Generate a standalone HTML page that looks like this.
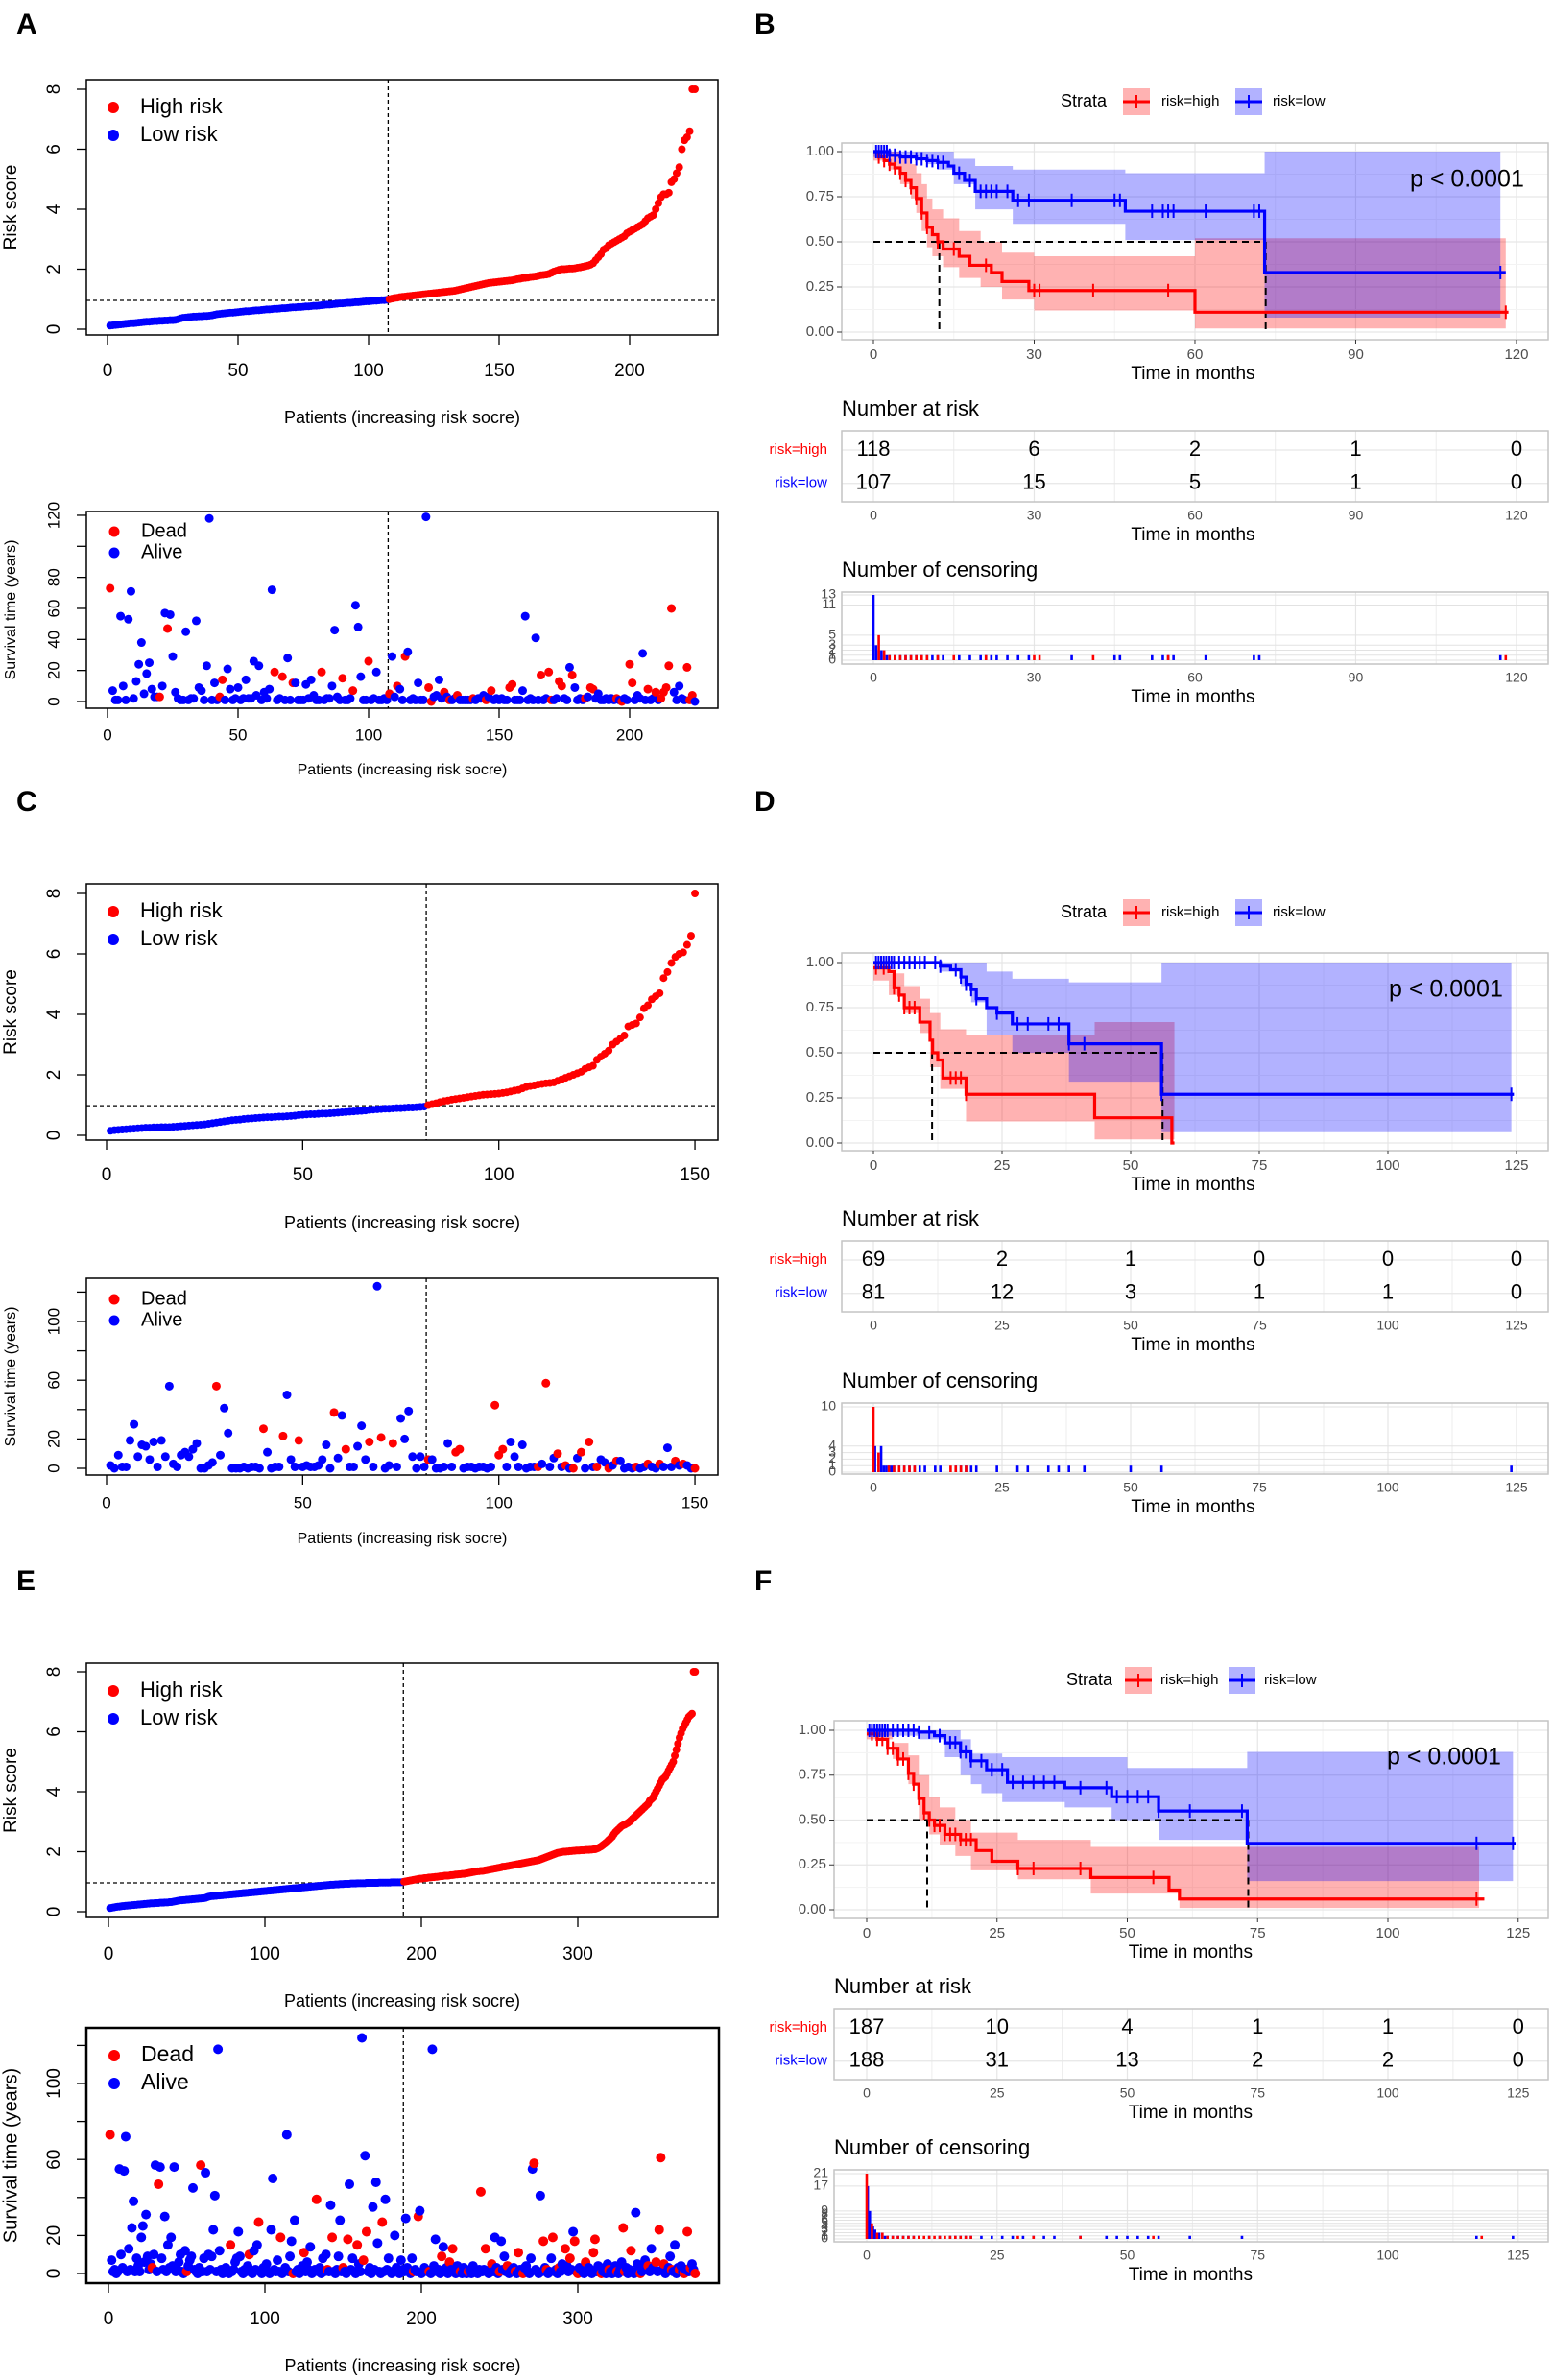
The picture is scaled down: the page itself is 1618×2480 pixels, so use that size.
<!DOCTYPE html>
<html><head><meta charset="utf-8"><title>Risk score and survival figure</title>
<style>
html,body{margin:0;padding:0;background:#fff;}
svg{display:block;font-family:"Liberation Sans",Arial,sans-serif;}
</style></head>
<body>
<svg id="fig" xmlns="http://www.w3.org/2000/svg" width="1618" height="2480" viewBox="0 0 1618 2480"></svg>
<script>
// ---------------- DATA ----------------
const riskA_low=[.12,.13,.14,.15,.16,.17,.18,.19,.20,.20,.21,.22,.23,.24,.25,.25,.26,.27,.27,.28,.28,.29,.29,.30,.30,.31,.33,.36,.38,.39,.40,.41,.42,.42,.43,.43,.44,.44,.45,.46,.48,.50,.51,.52,.53,.54,.55,.55,.56,.57,.58,.59,.60,.60,.61,.62,.63,.63,.64,.65,.66,.66,.67,.68,.68,.69,.70,.70,.71,.72,.73,.73,.74,.74,.75,.76,.76,.77,.78,.78,.79,.80,.81,.82,.82,.83,.84,.85,.86,.86,.87,.88,.88,.89,.90,.90,.91,.92,.93,.93,.94,.95,.95,.96,.97,.97,.98];
const riskA_high=[1.00,1.02,1.04,1.05,1.07,1.08,1.09,1.10,1.11,1.12,1.13,1.14,1.15,1.16,1.17,1.18,1.19,1.20,1.21,1.22,1.23,1.24,1.25,1.26,1.27,1.28,1.30,1.32,1.34,1.36,1.38,1.40,1.42,1.44,1.46,1.48,1.50,1.52,1.54,1.55,1.56,1.57,1.58,1.59,1.60,1.61,1.62,1.63,1.65,1.67,1.68,1.70,1.71,1.72,1.74,1.75,1.76,1.78,1.80,1.81,1.82,1.84,1.88,1.92,1.95,1.98,2.00,2.00,2.01,2.02,2.02,2.03,2.05,2.06,2.08,2.10,2.12,2.15,2.20,2.30,2.40,2.50,2.65,2.70,2.80,2.85,2.90,2.95,3.00,3.05,3.10,3.20,3.25,3.30,3.35,3.40,3.45,3.50,3.60,3.70,3.75,3.80,4.00,4.20,4.40,4.50,4.50,4.55,4.90,5.00,5.20,5.40,6.00,6.30,6.40,6.60,8.00,8.00];
const riskC_low=[.15,.17,.18,.19,.20,.21,.22,.23,.24,.25,.25,.26,.26,.27,.27,.27,.28,.29,.30,.31,.32,.33,.34,.35,.36,.38,.40,.42,.44,.46,.48,.50,.51,.52,.54,.55,.56,.57,.58,.59,.60,.60,.61,.62,.62,.63,.64,.65,.67,.68,.69,.70,.70,.71,.72,.72,.73,.74,.75,.76,.77,.78,.79,.80,.81,.82,.84,.85,.86,.87,.88,.88,.89,.90,.90,.91,.92,.92,.93,.94,.95];
const riskC_high=[1.00,1.03,1.06,1.10,1.13,1.15,1.18,1.20,1.22,1.24,1.26,1.28,1.30,1.32,1.34,1.35,1.36,1.37,1.38,1.40,1.42,1.45,1.48,1.50,1.55,1.60,1.63,1.65,1.68,1.70,1.72,1.73,1.75,1.80,1.85,1.90,1.95,2.00,2.05,2.10,2.20,2.25,2.30,2.50,2.60,2.70,2.80,3.00,3.10,3.20,3.30,3.60,3.65,3.70,3.90,4.20,4.30,4.50,4.60,4.70,5.20,5.40,5.70,5.90,6.00,6.05,6.30,6.60,8.00];
const riskE_low=[.12,.13,.14,.15,.16,.17,.17,.18,.19,.19,.20,.20,.21,.21,.22,.22,.23,.23,.24,.24,.25,.25,.26,.26,.27,.27,.28,.28,.28,.29,.29,.29,.30,.30,.30,.31,.31,.31,.32,.32,.33,.34,.35,.36,.37,.38,.38,.39,.39,.40,.40,.41,.41,.42,.42,.43,.43,.44,.44,.45,.45,.46,.48,.50,.51,.52,.52,.53,.53,.54,.54,.55,.55,.56,.56,.57,.57,.58,.58,.59,.59,.60,.60,.61,.61,.62,.62,.63,.63,.64,.64,.65,.65,.66,.66,.67,.67,.68,.68,.69,.69,.70,.70,.71,.71,.72,.72,.73,.73,.74,.74,.75,.75,.76,.76,.77,.77,.78,.78,.79,.79,.80,.80,.81,.81,.82,.82,.83,.83,.84,.84,.85,.85,.86,.86,.87,.87,.88,.88,.89,.89,.90,.90,.90,.91,.91,.91,.92,.92,.92,.93,.93,.93,.93,.94,.94,.94,.94,.95,.95,.95,.95,.95,.95,.96,.96,.96,.96,.96,.96,.96,.96,.97,.97,.97,.97,.97,.97,.97,.97,.98,.98,.98,.98,.98,.98,.98,.99];
const riskE_high=[1.00,1.01,1.02,1.03,1.04,1.05,1.06,1.07,1.08,1.09,1.10,1.10,1.11,1.12,1.12,1.13,1.14,1.14,1.15,1.16,1.16,1.17,1.18,1.18,1.19,1.20,1.20,1.21,1.22,1.22,1.23,1.24,1.24,1.25,1.26,1.27,1.28,1.29,1.30,1.31,1.32,1.33,1.34,1.35,1.36,1.37,1.38,1.39,1.40,1.41,1.42,1.43,1.44,1.45,1.46,1.47,1.48,1.50,1.52,1.54,1.55,1.56,1.57,1.58,1.59,1.60,1.61,1.62,1.63,1.64,1.65,1.66,1.67,1.68,1.69,1.70,1.71,1.72,1.74,1.76,1.78,1.80,1.82,1.84,1.86,1.88,1.90,1.92,1.94,1.96,1.97,1.98,1.99,2.00,2.00,2.01,2.01,2.02,2.02,2.03,2.04,2.05,2.06,2.08,2.10,2.12,2.15,2.18,2.22,2.26,2.30,2.35,2.40,2.45,2.50,2.58,2.65,2.70,2.75,2.80,2.85,2.88,2.90,2.93,2.96,3.00,3.05,3.10,3.15,3.20,3.25,3.30,3.35,3.40,3.45,3.50,3.55,3.60,3.70,3.75,3.80,3.90,4.00,4.10,4.20,4.30,4.40,4.45,4.50,4.60,4.70,4.80,4.90,5.00,5.20,5.40,5.60,5.80,5.95,6.10,6.20,6.30,6.40,6.50,6.55,6.60,8.00,8.00,2.03,2.04,2.04,2.05,2.05,2.06,2.06,2.07,2.07,2.08,1.50,1.51,1.53,1.35,1.36,1.25,1.26,1.15,1.20];

const timeA=[73,7,1,1,55,10,1,53,71,2,13,24,38,5,18,25,8,3,3,3,10,57,47,56,29,6,2,1,1,45,1,2,2,52,9,7,1,23,118,1,12,1,3,14,1,21,8,1,2,9,1,2,14,2,2,26,4,23,1,6,2,8,72,19,1,2,16,1,28,1,12,12,1,1,1,11,2,14,4,1,1,19,1,2,2,10,46,3,1,15,1,1,2,7,62,48,16,1,1,26,1,2,19,1,1,2,1,5,29,3,10,8,1,29,32,1,2,1,12,1,1,119,9,0,3,4,14,2,6,3,1,1,2,4,1,1,1,1,1,2,1,2,2,4,1,3,7,1,2,1,2,1,1,9,11,1,1,1,7,55,1,2,1,41,1,17,1,2,19,1,1,2,13,10,2,1,22,17,9,1,2,1,2,3,9,8,2,5,1,1,2,1,2,1,2,1,0,2,1,24,12,1,4,2,31,1,8,1,2,6,1,2,6,9,23,60,6,1,10,2,1,22,1,4,0];
const deadA=[1,20,23,43,44,64,67,71,82,90,94,100,108,111,114,123,124,129,131,134,140,145,147,154,155,166,169,170,173,174,178,183,185,186,195,197,200,201,207,210,212,213,214,215,216,222,223,224];
const timeC=[2,0,9,1,1,19,30,8,16,15,6,18,1,19,8,56,3,1,9,11,8,13,17,0,0,2,4,56,9,41,24,0,0,0,1,0,1,1,0,27,11,0,1,1,22,50,6,1,19,1,2,1,1,2,6,16,0,38,7,36,13,1,1,15,29,6,18,1,124,21,0,2,17,1,34,20,39,8,0,8,1,6,6,0,0,1,17,1,11,13,0,1,1,0,1,1,0,1,43,9,13,1,18,8,1,16,0,1,1,1,3,58,1,7,10,1,2,0,0,7,11,0,18,1,1,6,4,0,2,5,5,0,1,0,1,0,1,3,1,0,3,1,14,1,5,2,3,2,0,0];
const deadC=[28,40,45,49,58,61,67,70,73,82,89,90,99,100,101,110,112,115,117,119,121,123,125,128,130,135,138,141,145,147,150];
const timeE=[73,7,1,2,0,1,55,10,3,54,72,1,13,2,24,38,1,8,4,1,19,25,6,31,9,2,5,3,10,57,1,47,56,8,2,30,1,15,3,19,4,56,1,2,6,10,1,0,12,1,4,7,9,45,2,1,0,3,57,1,8,53,1,10,2,9,23,41,1,118,12,2,0,1,3,1,0,15,1,2,6,8,22,9,1,0,2,1,4,10,1,0,12,2,15,27,1,0,3,1,5,1,0,23,50,2,1,7,1,19,0,1,3,73,1,9,17,0,28,1,2,0,1,4,11,1,6,2,14,0,1,2,39,1,3,0,8,1,10,2,1,36,19,1,0,2,9,28,1,3,1,0,18,47,2,8,1,0,15,5,1,124,7,62,22,1,3,0,35,2,48,16,1,0,27,1,39,2,8,1,0,1,20,3,1,0,7,2,1,29,3,1,0,8,1,2,1,30,33,0,1,3,2,1,1,0,118,4,18,1,2,0,9,14,1,3,0,6,2,13,1,0,4,2,1,0,3,1,0,1,2,0,4,1,1,0,2,43,1,2,13,1,0,2,5,1,19,3,0,1,17,2,9,1,4,0,1,2,3,1,0,11,2,1,0,3,4,1,0,8,55,58,2,1,0,41,1,17,3,2,0,1,8,19,1,2,0,3,1,5,2,13,4,1,8,2,22,17,1,0,3,2,1,0,6,1,3,2,0,11,18,1,4,2,0,1,3,0,5,2,1,0,2,4,1,0,2,6,24,1,3,0,2,12,1,0,32,5,2,0,1,3,7,2,4,1,13,3,2,6,1,23,61,2,5,0,1,3,9,2,1,15,0,3,2,4,1,0,2,22,1,3,5,2,0];
const deadE=[1,28,32,50,59,78,90,96,110,118,125,133,140,143,150,153,159,163,165,175,195,198,205,213,218,220,225,230,238,241,245,250,255,260,262,265,272,278,280,284,288,292,295,298,300,305,310,311,315,320,325,329,330,334,340,345,350,352,353,355,360,365,368,370,372,375];

// KM panel B
const kmB_highT=[0,1,2,3,4,5,6,7,8,9,10,11,12,13,16,18,22,24,29,60];
const kmB_highS=[1,.97,.95,.93,.91,.88,.84,.80,.74,.66,.58,.54,.50,.46,.42,.37,.33,.28,.23,.11];
const ciB_highT=[0,3,5,7,8,9,10,11,13,16,20,24,30,60];
const ciB_highU=[1,1,.96,.93,.88,.82,.74,.68,.63,.56,.50,.44,.42,.52];
const ciB_highL=[.95,.90,.82,.74,.66,.56,.47,.42,.36,.30,.25,.18,.12,.02];
const kmB_lowT=[0,3,5,8,10,12,14,15,17,19,26,47,73];
const kmB_lowS=[1,.98,.97,.96,.95,.94,.92,.88,.84,.78,.73,.67,.33];
const ciB_lowT=[0,10,12,15,19,26,47,73];
const ciB_lowU=[1,1,1,.96,.92,.90,.88,1];
const ciB_lowL=[.97,.93,.90,.82,.68,.60,.51,.08];
const censB_high=[1,2,3,4,5,6,7,8,9,10,12,15,21,30,31,41,55,118];
const censB_low=[0.5,1,1.5,2,2.5,3,4,5,6,7,8,9,10,11,12,13,16,18,20,21,22,23,25,27,29,37,45,46,52,54,55,56,62,71,72,117];
const riskB_high=[118,6,2,1,0];
const riskB_low=[107,15,5,1,0];
const cntB_highT=[1,2,3,4,5,6,7,8,9,10,12,15,21,30,31,41,55,118];
const cntB_highN=[5,2,1,1,1,1,1,1,1,1,1,1,1,1,1,1,1,1];
const cntB_lowT=[0,0.5,1,1.5,2,2.5,3,4,5,6,7,8,9,10,11,12,13,16,18,20,21,22,23,25,27,29,37,45,46,52,54,55,56,62,71,72,117];
const cntB_lowN=[13,3,2,2,1,1,1,1,1,1,1,1,1,1,1,1,1,1,1,1,1,1,1,1,1,1,1,1,1,1,1,1,1,1,1,1,1];

// KM panel D
const kmD_highT=[0,3,4,5,6,9,11,11.5,12.5,13.5,18,43,58];
const kmD_highS=[.97,.95,.86,.82,.75,.67,.57,.50,.46,.36,.27,.14,0];
const ciD_highT=[0,3,6,9,11,13,18,43];
const ciD_highU=[1,.94,.87,.80,.72,.63,.60,.67];
const ciD_highL=[.90,.82,.72,.61,.42,.30,.12,.02];
const kmD_lowT=[0,13,15,17,18,19,20,22,24,27,38,56];
const kmD_lowS=[1,.98,.96,.92,.88,.85,.80,.75,.72,.66,.55,.27];
const ciD_lowT=[0,13,17,19,22,27,38,56];
const ciD_lowU=[1,1,1,1,.95,.91,.89,1];
const ciD_lowL=[1,.95,.87,.78,.60,.50,.34,.06];
const censD_high=[0.5,2,4,5,6,7,8,15,16,17,18];
const censD_low=[0.5,1,1.5,2,2.5,3,3.5,4,5,6,7,8,9,10,12,13,16,17,18,19,20,24,28,30,34,36,38,41,56,124];
const riskD_high=[69,2,1,0,0,0];
const riskD_low=[81,12,3,1,1,0];
const cntD_highT=[0,1,3,4,5,6,7,8,15,16,17,18];
const cntD_highN=[10,3,1,1,1,1,1,1,1,1,1,1];
const cntD_lowT=[0.3,1.5,2,2.5,3,3.5,4,5,6,7,8,9,10,12,13,16,17,18,19,20,24,28,30,34,36,38,41,50,56,124];
const cntD_lowN=[4,4,1,1,1,1,1,1,1,1,1,1,1,1,1,1,1,1,1,1,1,1,1,1,1,1,1,1,1,1];

// KM panel F
const kmF_highT=[0,2,4,6,8,9,10,11,12,13,15,18,21,24,29,43,58,60];
const kmF_highS=[.98,.95,.90,.84,.76,.70,.62,.54,.50,.47,.42,.39,.33,.27,.23,.18,.11,.06];
const ciF_highT=[0,5,8,10,12,14,17,20,29,43,60];
const ciF_highU=[1,.93,.86,.75,.63,.57,.50,.43,.39,.35,.35];
const ciF_highL=[.95,.84,.70,.50,.42,.36,.30,.22,.17,.09,.01];
const kmF_lowT=[0,10,13,15,18,20,23,27,38,47,56,73];
const kmF_lowS=[1,.99,.97,.93,.88,.83,.78,.71,.68,.63,.55,.37];
const ciF_lowT=[0,10,15,18,20,22,26,38,47,50,56,73];
const ciF_lowU=[1,1,1,.95,.87,.87,.85,.85,.85,.79,.79,.88];
const ciF_lowL=[.97,.95,.85,.75,.70,.65,.60,.57,.50,.50,.39,.16];
const censF_high=[1,2,3,4,5,6,7,8,9,10,11,12,13,14,15,16,17,18,19,20,29,32,41,55,117];
const censF_low=[0.5,1,1.5,2,2.5,3,3.5,4,5,6,7,8,9,10,12,14,16,17,18,19,20,22,24,26,28,30,32,34,36,41,46,48,50,52,54,56,62,72,117,124];
const riskF_high=[187,10,4,1,1,0];
const riskF_low=[188,31,13,2,2,0];
const cntF_highT=[0,1,2,3,4,5,6,7,8,9,10,11,12,13,14,15,16,17,18,19,20,29,32,41,55,118];
const cntF_highN=[21,5,2,2,1,1,1,1,1,1,1,1,1,1,1,1,1,1,1,1,1,1,1,1,1,1];
const cntF_lowT=[0.2,0.6,1.2,1.6,2.4,3,3.5,4,5,6,7,8,9,10,12,14,16,17,18,19,20,22,24,26,28,30,32,34,36,41,46,48,50,52,54,56,62,72,117,124];
const cntF_lowN=[17,9,4,3,2,2,1,1,1,1,1,1,1,1,1,1,1,1,1,1,1,1,1,1,1,1,1,1,1,1,1,1,1,1,1,1,1,1,1,1];

// ---------------- DRAWING ----------------
const NS='http://www.w3.org/2000/svg';
const svg=document.getElementById('fig');
function mk(tag,a,p){const e=document.createElementNS(NS,tag);for(const k in a)e.setAttribute(k,a[k]);(p||svg).appendChild(e);return e;}
function txt(x,y,s,a,p){const e=mk('text',Object.assign({x:x,y:y},a||{}),p);e.textContent=s;return e;}
const RED='#ff0000',BLUE='#0000ff';

function panelLetter(x,y,s){
  const t=txt(x,y,s,{'font-size':30,'font-weight':'bold'});
  
  
}

function riskPanel(c){
  const g=mk('g',{});
  
  
  const X=v=>c.x0+v*c.xs, Y=v=>c.y0-v*c.ys;
  const [l,t,r,b]=c.box;
  const low=c.low.slice().sort((a,b)=>a-b), high=c.high.slice().sort((a,b)=>a-b);
  const all=low.concat(high);
  // dashed guides
  const vx=X(low.length+0.5);
  const vl=mk('line',{x1:vx,x2:vx,y1:t,y2:b,stroke:'#000','stroke-width':1.3,'stroke-dasharray':'4,3'},g);
  
  
  const hy=Y(c.cut);
  const hl=mk('line',{x1:l,x2:r,y1:hy,y2:hy,stroke:'#000','stroke-width':1.3,'stroke-dasharray':'4,3'},g);
  
  
  all.forEach((v,i)=>{
    const p=mk('circle',{cx:X(i+1),cy:Y(v),r:4,fill:i<low.length?BLUE:RED},g);
    
    
  });
  const bx=mk('rect',{x:l,y:t,width:r-l,height:b-t,fill:'none',stroke:'#000','stroke-width':1.5},g);
  
  
  c.xticks.forEach(v=>{
    mk('line',{x1:X(v),x2:X(v),y1:b,y2:b+10,stroke:'#000','stroke-width':1.3},g);
    const tl=txt(X(v),c.xlabY,String(v),{'font-size':19,'text-anchor':'middle','dominant-baseline':'middle'},g);
    
    
  });
  c.yticks.forEach(v=>{
    mk('line',{x1:l-10,x2:l,y1:Y(v),y2:Y(v),stroke:'#000','stroke-width':1.3},g);
    const tl=txt(57,Y(v),String(v),{'font-size':19,'text-anchor':'middle','dominant-baseline':'middle',transform:'rotate(-90 57 '+Y(v)+')'},g);
    
    
  });
  const xt=txt((l+r)/2,c.xtitleY,'Patients (increasing risk socre)',{'font-size':18,'text-anchor':'middle','dominant-baseline':'middle'},g);
  
  
  const ym=(t+b)/2;
  const yt=txt(12,ym,'Risk score',{'font-size':19,'text-anchor':'middle','dominant-baseline':'middle',transform:'rotate(-90 12 '+ym+')'},g);
  
  
  [['High risk',RED,0],['Low risk',BLUE,1]].forEach(([s,col,k])=>{
    const yy=t+29+k*29;
    const d=mk('circle',{cx:118,cy:yy,r:6,fill:col},g);
    
    
    const lt=txt(146,yy,s,{'font-size':22,'dominant-baseline':'middle'},g);
    
    
  });
}

function survPanel(c){
  const g=mk('g',{});
  
  
  const X=v=>c.x0+v*c.xs, Y=v=>c.y0-v*c.ys;
  const [l,t,r,b]=c.box;
  const vx=X(c.cutIndex+0.5);
  const vl=mk('line',{x1:vx,x2:vx,y1:t,y2:b,stroke:'#000','stroke-width':1.3,'stroke-dasharray':'4,3'},g);
  
  
  const dead=new Set(c.dead);
  c.times.forEach((v,i)=>{
    const isD=dead.has(i+1);
    const p=mk('circle',{cx:X(i+1),cy:Y(v),r:c.pr,fill:isD?RED:BLUE},g);
    
    
  });
  const bx=mk('rect',{x:l,y:t,width:r-l,height:b-t,fill:'none',stroke:'#000','stroke-width':c.bw},g);
  
  
  c.xticks.forEach(v=>{
    mk('line',{x1:X(v),x2:X(v),y1:b,y2:b+10,stroke:'#000','stroke-width':1.3},g);
    const tl=txt(X(v),c.xlabY,String(v),{'font-size':c.fs,'text-anchor':'middle','dominant-baseline':'middle'},g);
    
    
  });
  [0,20,40,60,80,100,120].forEach(v=>{
    mk('line',{x1:l-10,x2:l,y1:Y(v),y2:Y(v),stroke:'#000','stroke-width':1.3},g);
  });
  c.ylabels.forEach(v=>{
    const tl=txt(57,Y(v),String(v),{'font-size':c.fs,'text-anchor':'middle','dominant-baseline':'middle',transform:'rotate(-90 57 '+Y(v)+')'},g);
    
    
  });
  const xt=txt((l+r)/2,c.xtitleY,'Patients (increasing risk socre)',{'font-size':c.fs-1,'text-anchor':'middle','dominant-baseline':'middle'},g);
  
  
  const ym=(t+b)/2;
  const yt=txt(12,ym,'Survival time (years)',{'font-size':c.yfs,'text-anchor':'middle','dominant-baseline':'middle',transform:'rotate(-90 12 '+ym+')'},g);
  
  
  [['Dead',RED,0],['Alive',BLUE,1]].forEach(([s,col,k])=>{
    const yy=t+c.lg0+k*c.lgs;
    const d=mk('circle',{cx:119,cy:yy,r:c.pr+1,fill:col},g);
    
    
    const lt=txt(147,yy,s,{'font-size':c.lfs,'dominant-baseline':'middle'},g);
    
    
  });
}

function stepAt(T,S,t){let v=S[0];for(let i=0;i<T.length;i++){if(T[i]<=t)v=S[i];}return v;}
function stepPath(T,S,end,X,Y){let d='M'+X(T[0])+','+Y(S[0]);for(let i=1;i<T.length;i++){d+=' H'+X(T[i])+' V'+Y(S[i]);}d+=' H'+X(end);return d;}
function bandPath(T,U,L,end,X,Y){
  let d='M'+X(T[0])+','+Y(U[0]);
  for(let i=1;i<T.length;i++)d+=' H'+X(T[i])+' V'+Y(U[i]);
  d+=' H'+X(end)+' V'+Y(L[L.length-1]);
  for(let i=T.length-1;i>=1;i--)d+=' H'+X(T[i])+' V'+Y(L[i-1]);
  d+=' H'+X(T[0])+' Z';return d;
}

function kmPanel(c){
  const g=mk('g',{});
  
  
  const X=v=>c.x0+v*c.xs;
  const [l,t,r,b]=c.box;
  const Y=v=>c.y0-v*c.ys;
  // legend
  const ly=c.legY;
  const st=txt(c.lx[0],ly,'Strata',{'font-size':18,'dominant-baseline':'middle'},g);
  
  
  [[c.lx[1],c.lx[2],'risk=high',RED],[c.lx[3],c.lx[4],'risk=low',BLUE]].forEach(([sx,tx,s,col])=>{
    const sw=mk('rect',{x:sx,y:ly-14,width:28,height:28,fill:col,'fill-opacity':0.3},g);
    
    
    mk('line',{x1:sx,x2:sx+28,y1:ly,y2:ly,stroke:col,'stroke-width':3},g);
    mk('line',{x1:sx+14,x2:sx+14,y1:ly-7,y2:ly+7,stroke:col,'stroke-width':2},g);
    const lt=txt(tx,ly,s,{'font-size':15,'dominant-baseline':'middle'},g);
    
    
  });
  // grid
  const bg=mk('rect',{x:l,y:t,width:r-l,height:b-t,fill:'#fff'},g);
  
  
  const step=c.xticks[1]-c.xticks[0];
  c.xticks.forEach(v=>{
    if(X(v-step/2)>l)mk('line',{x1:X(v-step/2),x2:X(v-step/2),y1:t,y2:b,stroke:'#f3f3f3','stroke-width':1},g);
    mk('line',{x1:X(v),x2:X(v),y1:t,y2:b,stroke:'#e6e6e6','stroke-width':1.2},g);
  });
  [0,.25,.5,.75,1].forEach(v=>{
    mk('line',{x1:l,x2:r,y1:Y(v),y2:Y(v),stroke:'#e6e6e6','stroke-width':1.2},g);
    if(v<1)mk('line',{x1:l,x2:r,y1:Y(v+.125),y2:Y(v+.125),stroke:'#f3f3f3','stroke-width':1},g);
  });
  // bands
  const bh=mk('path',{d:bandPath(c.ciHT,c.ciHU,c.ciHL,c.ciHEnd,X,Y),fill:RED,'fill-opacity':0.3},g);
  
  
  const bl=mk('path',{d:bandPath(c.ciLT,c.ciLU,c.ciLL,c.ciLEnd,X,Y),fill:BLUE,'fill-opacity':0.3},g);
  
  
  // median lines
  const md=c.median;
  const mh=mk('path',{d:'M'+X(0)+','+Y(.5)+' H'+X(md[1])+' M'+X(md[0])+','+Y(.5)+' V'+Y(0)+' M'+X(md[1])+','+Y(.5)+' V'+Y(0),stroke:'#000','stroke-width':2,'stroke-dasharray':'7,5',fill:'none'},g);
  
  
  // curves
  [[c.hT,c.hS,c.hEnd,RED,c.censH,'high'],[c.lT,c.lS,c.lEnd,BLUE,c.censL,'low']].forEach(([T,S,end,col,cens,nm])=>{
    const p=mk('path',{d:stepPath(T,S,end,X,Y),stroke:col,'stroke-width':3.2,fill:'none'},g);
    
    
    cens.forEach(tc=>{
      const yy=Y(stepAt(T,S,tc));
      const m=mk('line',{x1:X(tc),x2:X(tc),y1:yy-7,y2:yy+7,stroke:col,'stroke-width':2},g);
      
      
    });
  });
  const fr=mk('rect',{x:l,y:t,width:r-l,height:b-t,fill:'none',stroke:'#c4c4c4','stroke-width':1.5},g);
  
  
  [0,.25,.5,.75,1].forEach(v=>{
    mk('line',{x1:l-5,x2:l,y1:Y(v),y2:Y(v),stroke:'#333','stroke-width':1},g);
    const tl=txt(l-8,Y(v),v.toFixed(2),{'font-size':15,fill:'#4d4d4d','text-anchor':'end','dominant-baseline':'middle'},g);
    
    
  });
  c.xticks.forEach(v=>{
    mk('line',{x1:X(v),x2:X(v),y1:b,y2:b+4,stroke:'#333','stroke-width':1},g);
    const tl=txt(X(v),b+16,String(v),{'font-size':15,fill:'#4d4d4d','text-anchor':'middle','dominant-baseline':'middle'},g);
    
    
  });
  const xt=txt(X(c.xticks[c.xticks.length-1]/2)-2,b+36,'Time in months',{'font-size':19,'text-anchor':'middle','dominant-baseline':'middle'},g);
  
  
  const pv=txt(c.pPos[0],c.pPos[1],'p < 0.0001',{'font-size':25,'dominant-baseline':'middle'},g);
  
  

  // risk table
  const [tt,tb]=c.tab;
  const tg=mk('g',{},g);
  
  
  const nr=txt(l,tt-22,'Number at risk',{'font-size':22,'dominant-baseline':'middle'},tg);
  
  
  const r1=tt+(tb-tt)*0.27, r2=tt+(tb-tt)*0.74;
  c.xticks.forEach(v=>{
    if(X(v-step/2)>l)mk('line',{x1:X(v-step/2),x2:X(v-step/2),y1:tt,y2:tb,stroke:'#ececec','stroke-width':1},tg);
    mk('line',{x1:X(v),x2:X(v),y1:tt,y2:tb,stroke:'#e6e6e6','stroke-width':1.2},tg);
  });
  [r1,r2].forEach(yy=>mk('line',{x1:l,x2:r,y1:yy,y2:yy,stroke:'#e6e6e6','stroke-width':1.2},tg));
  mk('rect',{x:l,y:tt,width:r-l,height:tb-tt,fill:'none',stroke:'#c4c4c4','stroke-width':1.5},tg);
  [[c.riskH,r1,'risk=high',RED],[c.riskL,r2,'risk=low',BLUE]].forEach(([arr,yy,lab,col])=>{
    const rl=txt(862,yy,lab,{'font-size':15,fill:col,'text-anchor':'end','dominant-baseline':'middle'},tg);
    
    
    arr.forEach((n,i)=>{
      const nt=txt(X(c.xticks[i]),yy,String(n),{'font-size':22,'text-anchor':'middle','dominant-baseline':'middle'},tg);
      
      
    });
  });
  c.xticks.forEach(v=>{
    const tl=txt(X(v),tb+15,String(v),{'font-size':14,fill:'#4d4d4d','text-anchor':'middle','dominant-baseline':'middle'},tg);
    
    
  });
  const xt2=txt(X(c.xticks[c.xticks.length-1]/2)-2,tb+35,'Time in months',{'font-size':19,'text-anchor':'middle','dominant-baseline':'middle'},tg);
  
  

  // censoring plot
  const [ct,cb,cy0,cys]=c.cens;
  const cg=mk('g',{},g);
  
  
  const ctl=txt(l,ct-22,'Number of censoring',{'font-size':22,'dominant-baseline':'middle'},cg);
  
  
  const CY=v=>cy0-v*cys;
  c.xticks.forEach(v=>{
    if(X(v-step/2)>l)mk('line',{x1:X(v-step/2),x2:X(v-step/2),y1:ct,y2:cb,stroke:'#ececec','stroke-width':1},cg);
    mk('line',{x1:X(v),x2:X(v),y1:ct,y2:cb,stroke:'#e6e6e6','stroke-width':1.2},cg);
  });
  c.cTicks.forEach(v=>{
    mk('line',{x1:l,x2:r,y1:CY(v),y2:CY(v),stroke:'#e2e2e2','stroke-width':1},cg);
    const tl=txt(l-6,CY(v),String(v),{'font-size':14,fill:'#4d4d4d','text-anchor':'end','dominant-baseline':'middle'},cg);
    
    
  });
  [[c.cLT,c.cLN,BLUE,'low'],[c.cHT,c.cHN,RED,'high']].forEach(([T,N,col,nm])=>{
    T.forEach((tc,i)=>{
      const bar=mk('line',{x1:X(tc),x2:X(tc),y1:CY(0),y2:CY(N[i]),stroke:col,'stroke-width':2.6},cg);
      
      
    });
  });
  mk('rect',{x:l,y:ct,width:r-l,height:cb-ct,fill:'none',stroke:'#c4c4c4','stroke-width':1.5},cg);
  c.xticks.forEach(v=>{
    const tl=txt(X(v),cb+15,String(v),{'font-size':14,fill:'#4d4d4d','text-anchor':'middle','dominant-baseline':'middle'},cg);
    
    
  });
  const xt3=txt(X(c.xticks[c.xticks.length-1]/2)-2,cb+35,'Time in months',{'font-size':19,'text-anchor':'middle','dominant-baseline':'middle'},cg);
  
  
}

// ---------- Panels ----------
panelLetter(17,35,'A'); panelLetter(786,35,'B');
panelLetter(17,845,'C'); panelLetter(786,845,'D');
panelLetter(17,1657,'E'); panelLetter(786,1657,'F');

riskPanel({name:'risk-score-plot-a',box:[90,83,748,349],x0:112,xs:2.72,y0:343,ys:31.25,low:riskA_low,high:riskA_high,cut:0.96,xticks:[0,50,100,150,200],yticks:[0,2,4,6,8],xlabY:387,xtitleY:436});
survPanel({name:'survival-status-plot-a',box:[90,533,748,738],x0:112,xs:2.72,y0:731,ys:1.617,times:timeA,dead:deadA,cutIndex:107,pr:4.5,bw:1.5,xticks:[0,50,100,150,200],ylabels:[0,20,40,60,80,120],xlabY:767,xtitleY:803,fs:17,yfs:16,lfs:20,lg0:21,lg1:0,lgs:22});

riskPanel({name:'risk-score-plot-c',box:[90,921,748,1188],x0:111,xs:4.087,y0:1183,ys:31.5,low:riskC_low,high:riskC_high,cut:0.98,xticks:[0,50,100,150],yticks:[0,2,4,6,8],xlabY:1225,xtitleY:1275});
survPanel({name:'survival-status-plot-c',box:[90,1332,748,1537],x0:111,xs:4.087,y0:1530,ys:1.53,times:timeC,dead:deadC,cutIndex:81,pr:4.5,bw:1.5,xticks:[0,50,100,150],ylabels:[0,20,60,100],xlabY:1567,xtitleY:1604,fs:17,yfs:16,lfs:20,lg0:22,lgs:22});

riskPanel({name:'risk-score-plot-e',box:[90,1733,748,1998],x0:113,xs:1.63,y0:1992,ys:31.25,low:riskE_low,high:riskE_high,cut:0.96,xticks:[0,100,200,300],yticks:[0,2,4,6,8],xlabY:2037,xtitleY:2086});
survPanel({name:'survival-status-plot-e',box:[90,2113,749,2379],x0:113,xs:1.63,y0:2369,ys:1.98,times:timeE,dead:deadE,cutIndex:188,pr:5,bw:2.5,xticks:[0,100,200,300],ylabels:[0,20,60,100],xlabY:2417,xtitleY:2466,fs:19,yfs:20,lfs:23,lg0:29,lgs:29});

kmPanel({name:'km-plot-b',box:[877,149,1613,354],x0:910,xs:5.583,y0:346,ys:188,xticks:[0,30,60,90,120],
  legY:106,lx:[1105,1170,1210,1287,1326],
  hT:kmB_highT,hS:kmB_highS,hEnd:118.5,lT:kmB_lowT,lS:kmB_lowS,lEnd:118,
  ciHT:ciB_highT,ciHU:ciB_highU,ciHL:ciB_highL,ciHEnd:118,ciLT:ciB_lowT,ciLU:ciB_lowU,ciLL:ciB_lowL,ciLEnd:117,
  censH:censB_high,censL:censB_low,median:[12.3,73.2],pPos:[1469,188],
  tab:[449,523],riskH:riskB_high,riskL:riskB_low,
  cens:[617,692,688,5.23],cTicks:[0,1,2,3,5,11,13],cHT:cntB_highT,cHN:cntB_highN,cLT:cntB_lowT,cLN:cntB_lowN});

kmPanel({name:'km-plot-d',box:[877,993,1613,1199],x0:910,xs:5.36,y0:1191,ys:188,xticks:[0,25,50,75,100,125],
  legY:951,lx:[1105,1170,1210,1287,1326],
  hT:kmD_highT,hS:kmD_highS,hEnd:58.5,lT:kmD_lowT,lS:kmD_lowS,lEnd:124.5,
  ciHT:ciD_highT,ciHU:ciD_highU,ciHL:ciD_highL,ciHEnd:58.5,ciLT:ciD_lowT,ciLU:ciD_lowU,ciLL:ciD_lowL,ciLEnd:124,
  censH:censD_high,censL:censD_low,median:[11.4,56.2],pPos:[1447,1032],
  tab:[1293,1367],riskH:riskD_high,riskL:riskD_low,
  cens:[1462,1536,1534,6.8],cTicks:[0,1,2,3,4,10],cHT:cntD_highT,cHN:cntD_highN,cLT:cntD_lowT,cLN:cntD_lowN});

kmPanel({name:'km-plot-f',box:[869,1793,1613,1999],x0:903,xs:5.43,y0:1990,ys:187,xticks:[0,25,50,75,100,125],
  legY:1751,lx:[1111,1172,1209,1280,1317],
  hT:kmF_highT,hS:kmF_highS,hEnd:118.5,lT:kmF_lowT,lS:kmF_lowS,lEnd:124.5,
  ciHT:ciF_highT,ciHU:ciF_highU,ciHL:ciF_highL,ciHEnd:117.5,ciLT:ciF_lowT,ciLU:ciF_lowU,ciLL:ciF_lowL,ciLEnd:124,
  censH:censF_high,censL:censF_low,median:[11.6,73.2],pPos:[1445,1832],
  tab:[2093,2167],riskH:riskF_high,riskL:riskF_low,
  cens:[2261,2336,2333,3.24],cTicks:[0,1,2,3,4,5,6,7,8,9,17,21],cHT:cntF_highT,cHN:cntF_highN,cLT:cntF_lowT,cLN:cntF_lowN});
</script>
</body></html>
